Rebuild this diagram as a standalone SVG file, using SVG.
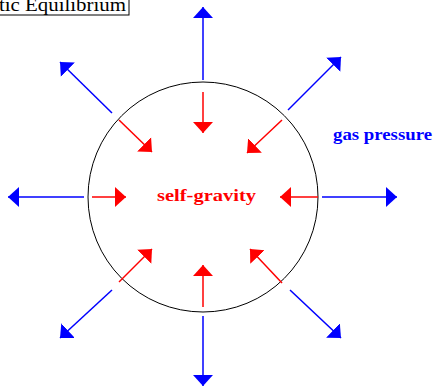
<svg xmlns="http://www.w3.org/2000/svg" width="436" height="387" viewBox="0 0 436 387">
<style>
.b{stroke:#0000ff;stroke-width:1.5;fill:none;marker-end:url(#hb)}
.r{stroke:#ff0000;stroke-width:1.5;fill:none;marker-end:url(#hr)}
.t{font-family:"Liberation Serif",serif;font-weight:bold;font-size:17px}
</style>
<defs>
<marker id="hb" markerUnits="userSpaceOnUse" markerWidth="12" markerHeight="22" viewBox="0 -11 12 22" refX="11" refY="0" orient="auto"><path d="M0,-10 L11,0 L0,10 Z" fill="#0000ff"/></marker>
<marker id="hr" markerUnits="userSpaceOnUse" markerWidth="12" markerHeight="22" viewBox="0 -11 12 22" refX="11" refY="0" orient="auto"><path d="M0,-10 L11,0 L0,10 Z" fill="#ff0000"/></marker>
</defs>
<rect width="436" height="387" fill="#fff"/>
<g id="title">
<rect x="-5" y="-5" width="134" height="20" fill="#fff" stroke="#000" stroke-width="1"/>
<text x="-1" y="11" font-family="Liberation Serif,serif" font-size="18" textLength="127" lengthAdjust="spacingAndGlyphs">tic Equilibrium</text>
</g>
<g id="star">
<circle cx="203" cy="197" r="115" fill="none" stroke="#000" stroke-width="1"/>
</g>
<g id="connectors">
<line class="b" x1="203" y1="80" x2="203" y2="7"/>
<line class="b" x1="203" y1="316" x2="203" y2="386"/>
<line class="b" x1="84" y1="197" x2="8" y2="197"/>
<line class="b" x1="322" y1="197" x2="397" y2="197"/>
<line class="b" x1="112" y1="113" x2="60" y2="62"/>
<line class="b" x1="288" y1="110" x2="341" y2="57"/>
<line class="b" x1="112" y1="290" x2="60" y2="338"/>
<line class="b" x1="290" y1="290" x2="341" y2="338"/>
<line class="r" x1="203" y1="92" x2="203" y2="133"/>
<line class="r" x1="203" y1="307" x2="203" y2="265"/>
<line class="r" x1="92" y1="197" x2="126" y2="197"/>
<line class="r" x1="318" y1="197" x2="280" y2="197"/>
<line class="r" x1="119" y1="120" x2="152" y2="152"/>
<line class="r" x1="282" y1="120" x2="247" y2="153"/>
<line class="r" x1="119" y1="282" x2="152" y2="249"/>
<line class="r" x1="282" y1="283" x2="250" y2="249"/>
</g>
<g id="labels">
<text class="t" x="333" y="140" fill="#0000ff" textLength="99" lengthAdjust="spacingAndGlyphs">gas pressure</text>
<text class="t" x="157" y="201" fill="#ff0000" textLength="99" lengthAdjust="spacingAndGlyphs">self-gravity</text>
</g>
</svg>
